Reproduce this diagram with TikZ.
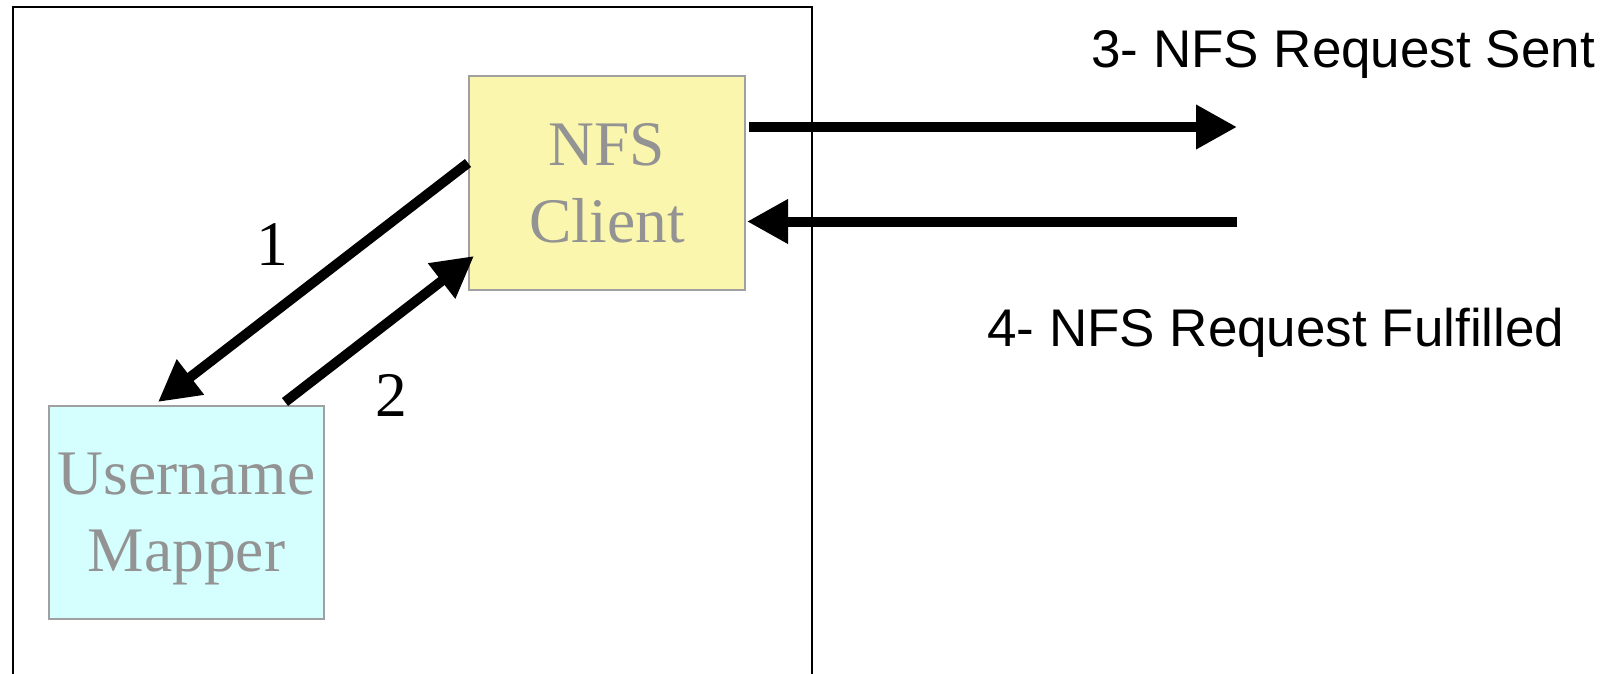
\documentclass[tikz,border=0pt]{standalone}
\usepackage{fontspec}
\setmainfont{Liberation Serif}
\newfontfamily\arialfont{Liberation Sans}
\usetikzlibrary{arrows.meta,calc}
\definecolor{nfsyellow}{RGB}{250,246,173}
\definecolor{mapcyan}{RGB}{213,255,255}
\definecolor{boxgray}{RGB}{160,160,160}
\definecolor{textgray}{RGB}{147,147,147}
\tikzset{
  compbox/.style={draw=boxgray, line width=2pt, inner sep=0pt, align=center,
    text=textgray, font=\fontsize{63.5}{77}\selectfont},
  flow/.style={line width=10pt, -{Triangle[length=41pt,width=42pt]}},
  steplabel/.style={font=\fontsize{63.5}{77}\selectfont, inner sep=0pt},
  msglabel/.style={font=\arialfont\fontsize{53}{60}\selectfont, anchor=base west, inner sep=0pt},
}
\begin{document}
\begin{tikzpicture}[x=1pt,y=-1pt]
\useasboundingbox (0,0) rectangle (1610,674);
% outer host frame
\draw[line width=2pt] (13,700) -- (13,7.5) -- (812,7.5) -- (812,700);
% components
\node[compbox, fill=nfsyellow, minimum width=276pt, minimum height=214pt] (nfs) at (607,183) {NFS\\Client};
\node[compbox, fill=mapcyan, minimum width=275pt, minimum height=213pt] (mapper) at (186.5,512.5) {Username\\\raisebox{0pt}[\height][0pt]{Mapper}};
% internal arrows
\draw[flow] ($(nfs.west)+(0,-20)$) -- ($(mapper.north)+(-28.5,-3)$);
\draw[flow] ($(mapper.north)+(98.5,-3)$) -- ($(nfs.south west)+(6,-35)$);
\node[steplabel] (l1) at (272,245) {1};
\node[steplabel] (l2) at (391,395) {2};
% external arrows
\coordinate (outend) at (1237,127);
\coordinate (instart) at (1237,221.5);
\draw[flow] ($(nfs.east)+(3,-56)$) -- (outend);
\draw[flow] (instart) -- ($(nfs.east)+(1,38.5)$);
\node[msglabel] (sent) at (1091,68) {3- NFS Request Sent};
\node[msglabel] (done) at (987,346) {4- NFS Request Fulfilled};
\end{tikzpicture}
\end{document}
